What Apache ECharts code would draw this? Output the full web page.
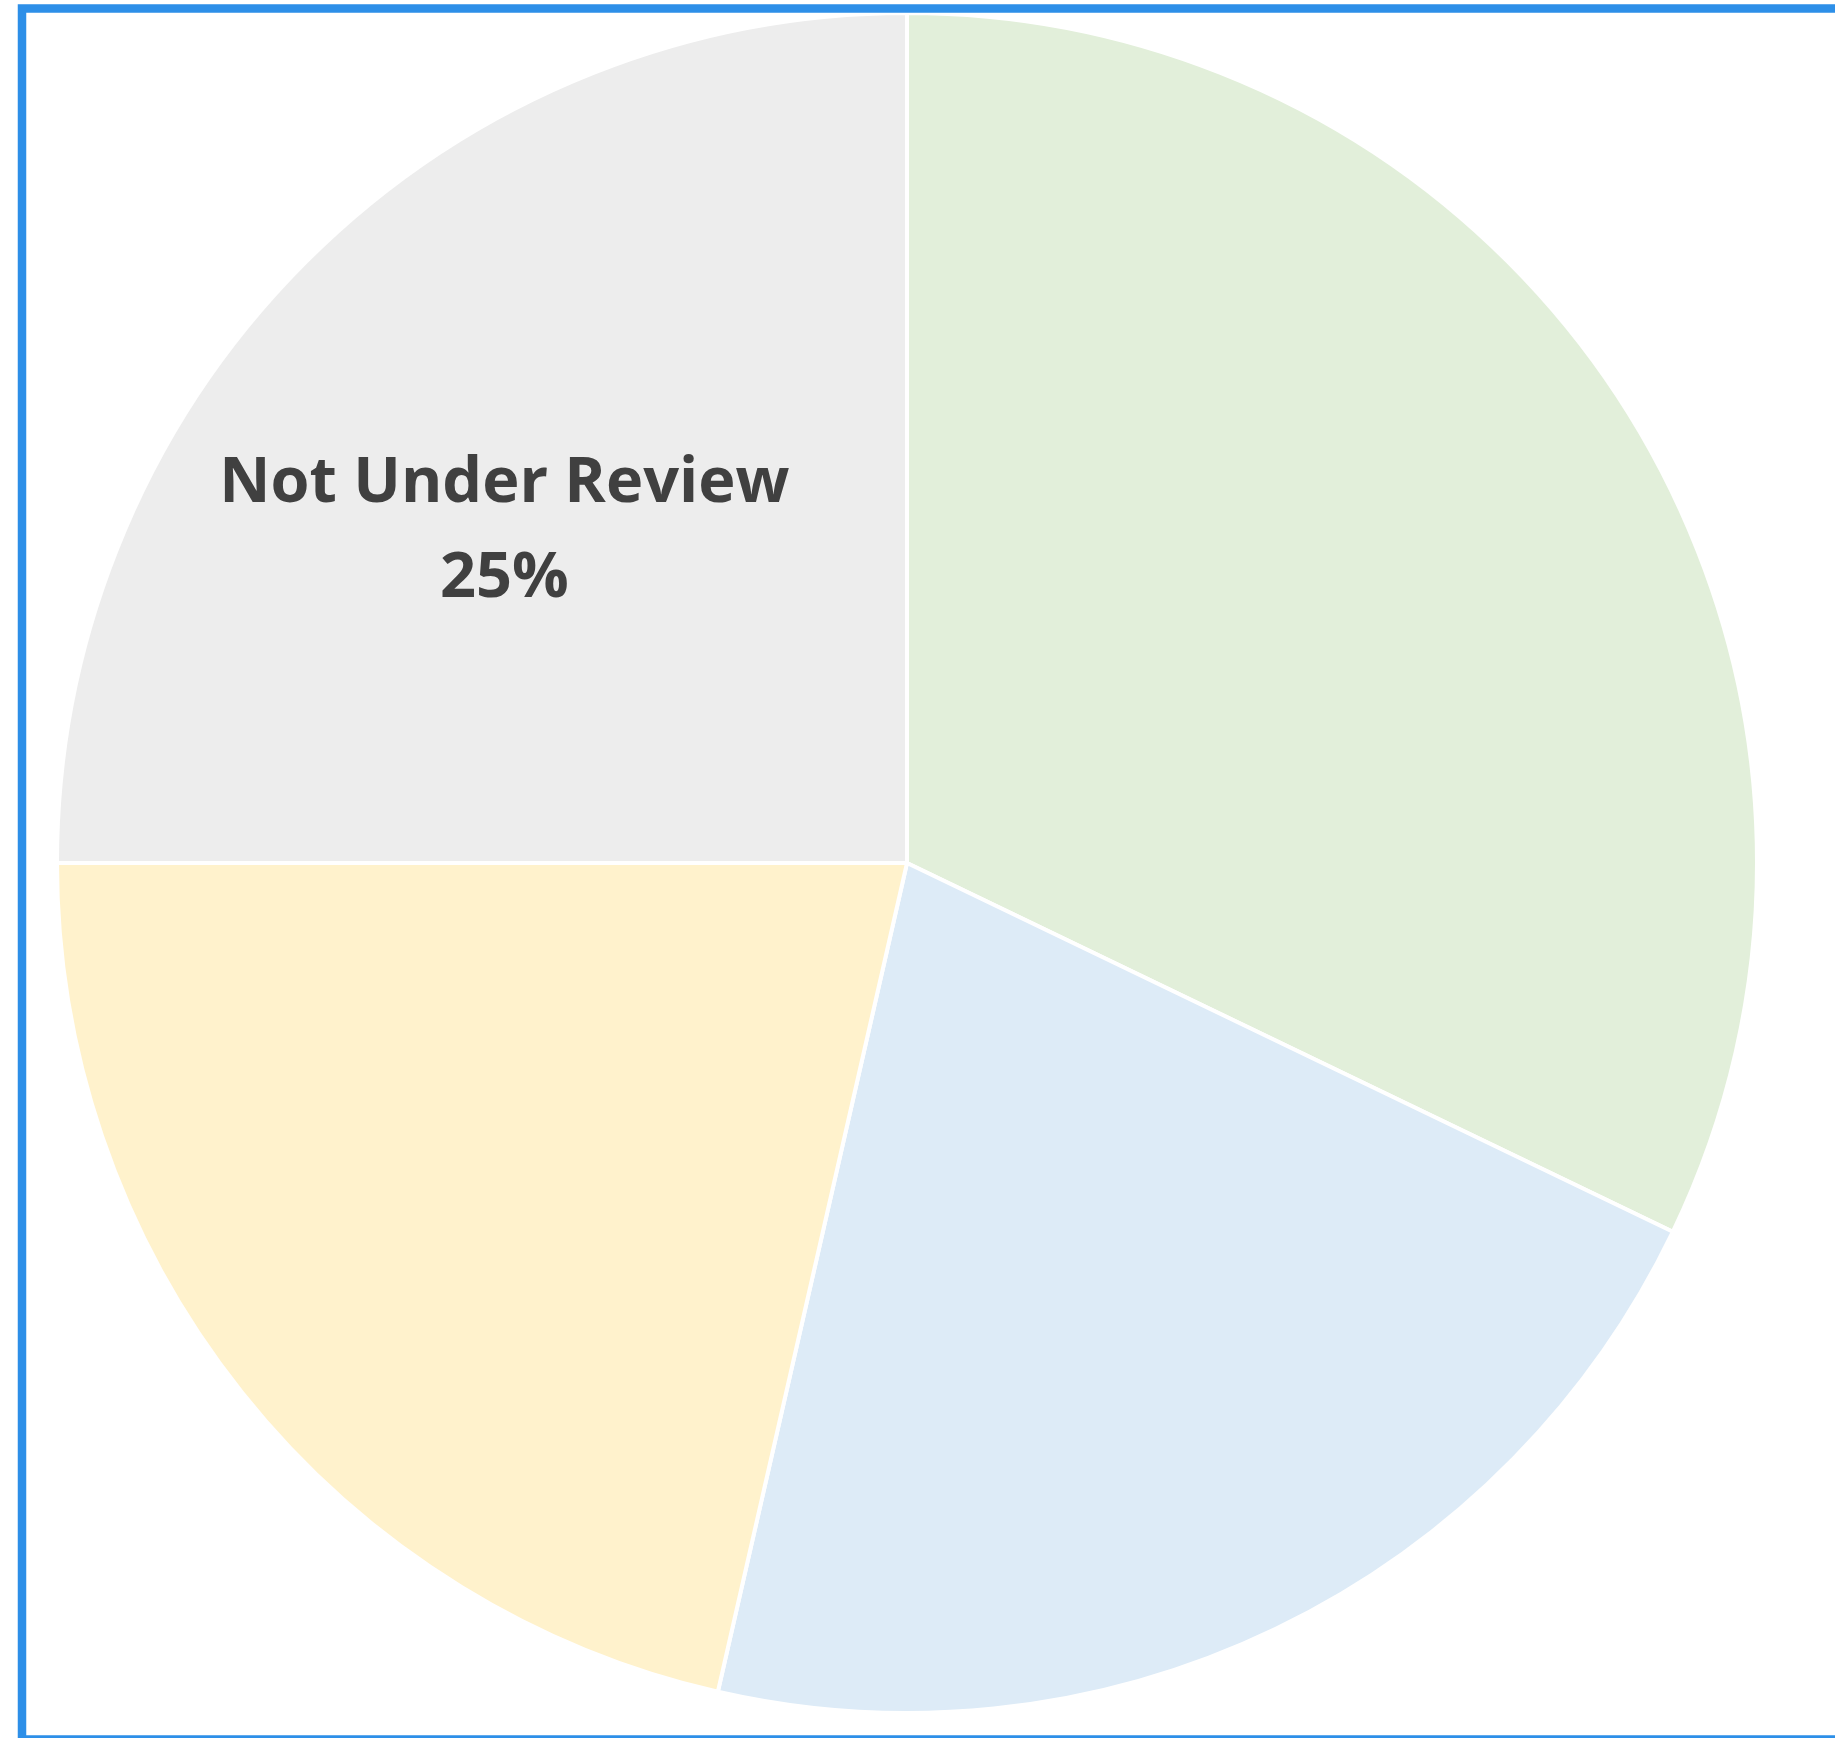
<!DOCTYPE html>
<html>
<head>
<meta charset="utf-8">
<script src="https://cdn.jsdelivr.net/npm/echarts@6/dist/echarts.min.js"></script>
<style>
  html, body { margin: 0; padding: 0; background: #fff; }
  #chart { width: 1835px; height: 1738px; }
</style>
</head>
<body>
<div id="chart"></div>
<script>
// slice data, clockwise from 12 o'clock
var categories = ['Approved', 'Under Review', 'Pending', 'Not Under Review'];
var counts = [9, 6, 6, 7];
var sliceColors = ['#e2efda', '#ddebf7', '#fff2cc', '#ededed'];
var labelled = [false, false, false, true];

var chart = echarts.init(document.getElementById('chart'));

var pieData = categories.map(function (name, i) {
    return {
        name: name,
        value: counts[i],
        itemStyle: { color: sliceColors[i] },
        label: { show: labelled[i] }
    };
});

chart.setOption({
    animation: false,
    backgroundColor: '#fff',
    graphic: [{
        type: 'rect',
        shape: { x: 22, y: 8.5, width: 1900, height: 1731 },
        style: { fill: 'none', stroke: '#2d8fe8', lineWidth: 8.5 },
        z: 100
    }],
    series: [{
        type: 'pie',
        center: [907, 863],
        radius: [0, 850],
        startAngle: 90,
        clockwise: true,
        data: pieData,
        itemStyle: { borderColor: '#fff', borderWidth: 4 },
        label: {
            position: 'inside',
            formatter: '{b}\n{d}%',
            color: '#404040',
            fontFamily: 'Open Sans',
            fontWeight: 'bold',
            fontSize: 63,
            lineHeight: 95,
            offset: [-100, -29]
        },
        labelLine: { show: false },
        emphasis: { disabled: true }
    }]
});
</script>
</body>
</html>
